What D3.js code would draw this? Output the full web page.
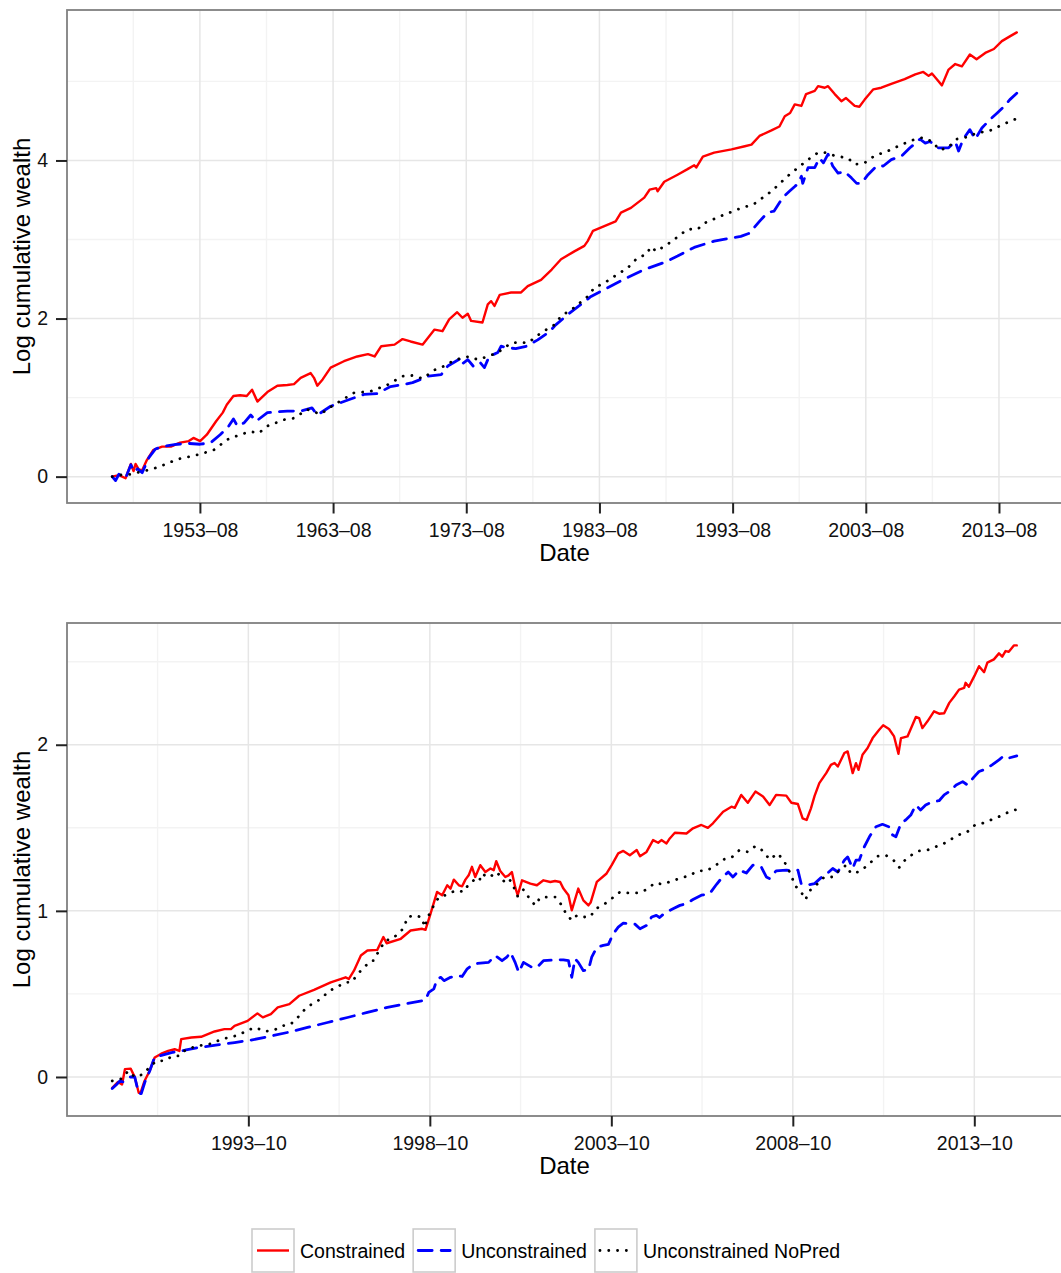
<!DOCTYPE html>
<html>
<head>
<meta charset="utf-8">
<script src="https://cdn.jsdelivr.net/npm/d3@7"></script>
<style>
  html, body { margin: 0; padding: 0; background: #ffffff; }
  svg { display: block; }
  text { font-family: "Liberation Sans", Arial, Helvetica, sans-serif; }
</style>
</head>
<body>
<svg id="chart" width="1061" height="1273"></svg>
<script>
// ---------------- DATA (decimal year, log cumulative wealth) ----------------
const seriesNames = ["Constrained", "Unconstrained", "Unconstrained NoPred"];

const topConstrained = [[1947.0,0.0],[1947.5,0.02],[1948.0,-0.02],[1948.4,0.16],[1948.6,0.07],[1948.75,0.16],[1949.0,0.09],[1949.25,0.08],[1949.6,0.21],[1950.1,0.34],[1950.75,0.38],[1951.4,0.38],[1952.1,0.43],[1952.75,0.45],[1953.1,0.49],[1953.6,0.45],[1954.1,0.53],[1954.8,0.70],[1955.3,0.81],[1955.6,0.91],[1956.1,1.02],[1956.6,1.03],[1957.1,1.02],[1957.5,1.10],[1957.9,0.95],[1958.65,1.07],[1959.4,1.15],[1960.15,1.16],[1960.65,1.17],[1961.15,1.25],[1961.9,1.31],[1962.15,1.25],[1962.4,1.15],[1962.8,1.23],[1963.4,1.38],[1964.4,1.46],[1965.4,1.52],[1966.2,1.55],[1966.7,1.52],[1967.2,1.65],[1968.2,1.67],[1968.8,1.74],[1969.4,1.71],[1970.3,1.67],[1971.2,1.86],[1971.8,1.84],[1972.3,1.99],[1972.9,2.08],[1973.3,2.01],[1973.7,2.06],[1973.95,1.97],[1974.8,1.95],[1975.2,2.18],[1975.45,2.22],[1975.7,2.16],[1976.1,2.30],[1976.95,2.33],[1977.7,2.33],[1978.2,2.41],[1979.2,2.49],[1980.0,2.62],[1980.7,2.75],[1981.7,2.85],[1982.45,2.92],[1982.7,2.98],[1983.1,3.11],[1983.95,3.17],[1984.8,3.23],[1985.2,3.34],[1985.95,3.40],[1986.95,3.53],[1987.35,3.63],[1987.85,3.65],[1987.95,3.61],[1988.45,3.73],[1989.45,3.82],[1990.2,3.89],[1990.7,3.94],[1990.85,3.91],[1991.35,4.05],[1992.2,4.10],[1993.5,4.14],[1994.5,4.18],[1995.0,4.20],[1995.6,4.31],[1996.5,4.38],[1997.1,4.43],[1997.5,4.56],[1997.9,4.60],[1998.25,4.71],[1998.75,4.69],[1999.1,4.84],[1999.75,4.88],[2000.0,4.94],[2000.5,4.92],[2000.75,4.94],[2001.25,4.84],[2001.75,4.75],[2002.1,4.79],[2002.75,4.69],[2003.1,4.68],[2003.5,4.77],[2004.15,4.90],[2004.75,4.92],[2005.5,4.97],[2006.5,5.03],[2007.3,5.09],[2007.9,5.12],[2008.3,5.07],[2008.55,5.10],[2008.9,5.03],[2009.3,4.95],[2009.8,5.15],[2010.3,5.22],[2010.8,5.19],[2011.4,5.34],[2011.9,5.28],[2012.55,5.36],[2013.2,5.41],[2013.8,5.51],[2014.4,5.57],[2014.92,5.62]];

const topUnconstrained = [[1947.0,0.0],[1947.25,-0.05],[1947.5,0.03],[1948.0,-0.02],[1948.4,0.15],[1948.65,0.06],[1948.9,0.10],[1949.25,0.05],[1949.75,0.24],[1950.25,0.35],[1950.75,0.38],[1951.9,0.41],[1952.75,0.42],[1953.6,0.41],[1954.4,0.43],[1955.1,0.53],[1955.75,0.64],[1956.1,0.73],[1956.4,0.64],[1956.9,0.68],[1957.4,0.78],[1957.8,0.70],[1958.65,0.81],[1960.15,0.83],[1961.15,0.83],[1962.0,0.87],[1962.4,0.78],[1963.4,0.89],[1964.7,0.97],[1965.9,1.04],[1966.9,1.05],[1967.9,1.14],[1969.05,1.17],[1969.55,1.19],[1970.15,1.23],[1970.7,1.27],[1971.7,1.29],[1972.2,1.40],[1972.8,1.46],[1973.2,1.50],[1973.3,1.43],[1973.7,1.48],[1974.1,1.40],[1974.6,1.45],[1974.95,1.38],[1975.3,1.52],[1975.95,1.57],[1976.2,1.65],[1976.7,1.63],[1977.3,1.62],[1978.1,1.65],[1978.95,1.73],[1979.8,1.83],[1980.3,1.92],[1981.2,2.05],[1982.2,2.18],[1982.95,2.28],[1984.2,2.39],[1985.7,2.52],[1986.95,2.62],[1988.45,2.71],[1989.45,2.79],[1990.7,2.90],[1992.2,2.98],[1994.2,3.04],[1994.85,3.08],[1995.6,3.23],[1996.2,3.34],[1996.7,3.36],[1997.35,3.53],[1997.85,3.61],[1998.25,3.67],[1998.5,3.71],[1998.75,3.80],[1998.85,3.71],[1999.25,3.91],[1999.75,3.91],[2000.1,4.03],[2000.4,3.97],[2000.75,4.08],[2001.1,3.93],[2001.5,3.84],[2002.0,3.86],[2002.5,3.78],[2002.9,3.71],[2003.25,3.71],[2003.75,3.82],[2004.4,3.93],[2004.9,3.93],[2005.5,4.01],[2006.3,4.06],[2006.9,4.16],[2007.65,4.27],[2008.05,4.22],[2008.4,4.24],[2009.0,4.16],[2009.8,4.16],[2010.3,4.24],[2010.55,4.12],[2010.9,4.27],[2011.4,4.39],[2011.8,4.27],[2012.3,4.41],[2012.8,4.50],[2013.45,4.60],[2013.95,4.68],[2014.4,4.77],[2014.92,4.85]];

const topNoPred = [[1947.0,0.0],[1947.6,0.02],[1948.4,0.03],[1949.1,0.06],[1949.9,0.09],[1950.6,0.13],[1951.9,0.22],[1953.25,0.27],[1953.9,0.30],[1954.65,0.34],[1955.65,0.47],[1956.75,0.54],[1957.4,0.57],[1958.0,0.55],[1958.65,0.64],[1959.9,0.72],[1960.65,0.74],[1961.65,0.85],[1962.15,0.82],[1962.65,0.79],[1963.3,0.87],[1964.55,1.00],[1965.15,1.06],[1966.4,1.08],[1967.65,1.16],[1968.8,1.27],[1969.55,1.28],[1970.3,1.24],[1971.2,1.35],[1971.95,1.40],[1972.55,1.46],[1973.2,1.50],[1973.8,1.52],[1974.45,1.48],[1975.2,1.52],[1975.95,1.57],[1976.95,1.69],[1977.6,1.70],[1978.2,1.69],[1979.2,1.82],[1980.2,1.92],[1980.7,2.03],[1981.7,2.14],[1982.7,2.28],[1983.2,2.39],[1983.95,2.45],[1984.95,2.56],[1985.7,2.64],[1986.45,2.77],[1987.1,2.81],[1987.45,2.91],[1987.85,2.85],[1988.7,2.94],[1989.35,3.02],[1990.2,3.13],[1990.95,3.13],[1991.5,3.21],[1992.6,3.29],[1993.95,3.38],[1995.2,3.45],[1996.5,3.61],[1997.7,3.80],[1998.5,3.91],[1999.25,4.01],[2000.0,4.10],[2000.5,4.10],[2001.25,4.06],[2002.25,4.03],[2002.75,3.95],[2003.5,3.97],[2004.25,4.06],[2005.25,4.12],[2006.25,4.20],[2007.3,4.27],[2007.9,4.29],[2008.55,4.24],[2009.15,4.13],[2009.8,4.17],[2010.4,4.27],[2011.3,4.30],[2011.9,4.35],[2012.8,4.37],[2013.55,4.43],[2014.2,4.48],[2014.92,4.53]];

const bottomConstrained = [[1990.0,-0.065],[1990.16,-0.03],[1990.27,-0.045],[1990.35,0.047],[1990.51,0.05],[1990.62,0.0],[1990.73,-0.095],[1990.78,-0.095],[1990.89,-0.024],[1991.03,0.036],[1991.17,0.117],[1991.35,0.14],[1991.54,0.157],[1991.72,0.167],[1991.85,0.157],[1991.9,0.228],[1992.18,0.238],[1992.45,0.242],[1992.82,0.274],[1993.09,0.288],[1993.27,0.288],[1993.37,0.308],[1993.73,0.338],[1994.0,0.383],[1994.15,0.359],[1994.37,0.379],[1994.56,0.419],[1994.88,0.439],[1995.15,0.489],[1995.56,0.524],[1996.02,0.57],[1996.43,0.60],[1996.52,0.59],[1996.66,0.64],[1996.85,0.731],[1997.03,0.761],[1997.3,0.765],[1997.47,0.842],[1997.56,0.805],[1997.95,0.832],[1998.22,0.882],[1998.54,0.892],[1998.63,0.886],[1998.77,0.983],[1998.95,1.114],[1999.09,1.094],[1999.23,1.154],[1999.32,1.134],[1999.41,1.188],[1999.55,1.154],[1999.64,1.148],[1999.73,1.188],[1999.82,1.214],[1999.91,1.265],[2000.0,1.204],[2000.14,1.275],[2000.28,1.234],[2000.42,1.255],[2000.51,1.245],[2000.58,1.299],[2000.69,1.24],[2000.83,1.204],[2000.92,1.214],[2001.01,1.234],[2001.1,1.144],[2001.17,1.094],[2001.29,1.184],[2001.52,1.164],[2001.7,1.154],[2001.88,1.184],[2002.07,1.174],[2002.2,1.18],[2002.34,1.174],[2002.43,1.134],[2002.57,1.094],[2002.66,1.003],[2002.84,1.134],[2002.98,1.063],[2003.12,1.033],[2003.18,1.05],[2003.35,1.174],[2003.62,1.225],[2003.76,1.275],[2003.94,1.346],[2004.08,1.361],[2004.26,1.335],[2004.45,1.366],[2004.54,1.329],[2004.72,1.355],[2004.9,1.426],[2005.04,1.41],[2005.13,1.426],[2005.27,1.406],[2005.36,1.436],[2005.5,1.47],[2005.82,1.466],[2006.0,1.497],[2006.23,1.517],[2006.41,1.50],[2006.55,1.527],[2006.83,1.597],[2007.06,1.627],[2007.15,1.62],[2007.33,1.698],[2007.51,1.651],[2007.72,1.718],[2007.93,1.688],[2008.11,1.637],[2008.29,1.698],[2008.57,1.694],[2008.71,1.651],[2008.89,1.643],[2009.02,1.557],[2009.13,1.547],[2009.25,1.617],[2009.35,1.692],[2009.48,1.769],[2009.67,1.829],[2009.8,1.879],[2009.9,1.89],[2009.99,1.869],[2010.17,1.95],[2010.26,1.96],[2010.4,1.829],[2010.49,1.889],[2010.56,1.849],[2010.67,1.94],[2010.81,1.98],[2010.95,2.04],[2011.13,2.09],[2011.24,2.117],[2011.4,2.095],[2011.54,2.05],[2011.66,1.946],[2011.73,2.04],[2011.91,2.05],[2012.14,2.167],[2012.23,2.16],[2012.32,2.10],[2012.46,2.141],[2012.64,2.201],[2012.78,2.187],[2012.92,2.19],[2013.06,2.252],[2013.2,2.292],[2013.33,2.332],[2013.47,2.342],[2013.51,2.373],[2013.6,2.349],[2013.75,2.413],[2013.88,2.473],[2014.02,2.437],[2014.11,2.494],[2014.29,2.514],[2014.43,2.55],[2014.52,2.53],[2014.61,2.564],[2014.7,2.56],[2014.84,2.598],[2014.92,2.598]];

const bottomUnconstrained = [[1990.0,-0.07],[1990.12,-0.045],[1990.21,-0.024],[1990.3,-0.03],[1990.5,0.0],[1990.62,0.0],[1990.73,-0.1],[1990.8,-0.1],[1990.9,-0.03],[1991.03,0.035],[1991.17,0.12],[1991.3,0.127],[1991.63,0.147],[1992.0,0.161],[1992.36,0.177],[1992.9,0.193],[1993.37,0.207],[1993.82,0.222],[1994.28,0.242],[1994.83,0.268],[1995.38,0.298],[1995.93,0.328],[1996.48,0.358],[1997.03,0.389],[1997.58,0.419],[1998.13,0.443],[1998.63,0.462],[1998.72,0.509],[1998.86,0.53],[1998.95,0.59],[1999.05,0.60],[1999.14,0.58],[1999.32,0.60],[1999.5,0.61],[1999.64,0.605],[1999.78,0.651],[1999.96,0.681],[2000.14,0.685],[2000.37,0.69],[2000.55,0.731],[2000.74,0.70],[2000.87,0.721],[2000.97,0.751],[2001.1,0.69],[2001.2,0.63],[2001.33,0.69],[2001.56,0.66],[2001.7,0.66],[2001.88,0.70],[2002.16,0.705],[2002.43,0.705],[2002.57,0.70],[2002.66,0.60],[2002.75,0.711],[2002.84,0.69],[2002.98,0.64],[2003.12,0.645],[2003.21,0.721],[2003.35,0.781],[2003.53,0.792],[2003.67,0.798],[2003.8,0.862],[2003.94,0.902],[2004.08,0.926],[2004.26,0.923],[2004.4,0.92],[2004.54,0.892],[2004.72,0.912],[2004.86,0.963],[2004.99,0.973],[2005.08,0.96],[2005.22,0.987],[2005.45,1.013],[2005.64,1.033],[2005.82,1.044],[2006.0,1.068],[2006.23,1.094],[2006.46,1.104],[2006.65,1.16],[2006.78,1.195],[2006.97,1.234],[2007.1,1.204],[2007.28,1.245],[2007.47,1.228],[2007.65,1.275],[2007.88,1.265],[2008.02,1.204],[2008.11,1.194],[2008.29,1.241],[2008.57,1.245],[2008.71,1.241],[2008.89,1.245],[2008.98,1.164],[2009.12,1.154],[2009.35,1.164],[2009.53,1.20],[2009.71,1.228],[2009.85,1.255],[2009.99,1.234],[2010.17,1.305],[2010.26,1.325],[2010.4,1.255],[2010.49,1.305],[2010.58,1.305],[2010.72,1.386],[2010.86,1.446],[2011.04,1.506],[2011.22,1.521],[2011.4,1.506],[2011.5,1.456],[2011.59,1.446],[2011.73,1.527],[2011.86,1.547],[2012.0,1.577],[2012.14,1.637],[2012.27,1.607],[2012.41,1.637],[2012.59,1.657],[2012.78,1.663],[2012.92,1.698],[2013.06,1.718],[2013.25,1.758],[2013.43,1.778],[2013.56,1.758],[2013.75,1.808],[2013.88,1.839],[2014.06,1.853],[2014.24,1.879],[2014.43,1.909],[2014.56,1.933],[2014.7,1.92],[2014.92,1.933]];

const bottomNoPred = [[1990.0,-0.024],[1990.26,-0.01],[1990.44,0.036],[1990.62,0.0],[1990.85,0.016],[1991.03,0.06],[1991.22,0.097],[1991.44,0.097],[1991.67,0.127],[1991.85,0.127],[1992.04,0.167],[1992.27,0.181],[1992.5,0.193],[1992.77,0.201],[1993.0,0.228],[1993.23,0.238],[1993.5,0.254],[1993.73,0.282],[1993.96,0.298],[1994.19,0.274],[1994.46,0.282],[1994.69,0.308],[1994.92,0.318],[1995.11,0.358],[1995.29,0.403],[1995.52,0.443],[1995.75,0.469],[1995.96,0.515],[1996.21,0.544],[1996.43,0.57],[1996.6,0.57],[1996.76,0.62],[1996.94,0.66],[1997.12,0.70],[1997.2,0.70],[1997.35,0.761],[1997.53,0.822],[1997.72,0.832],[1997.85,0.858],[1998.04,0.898],[1998.13,0.963],[1998.36,0.973],[1998.54,0.959],[1998.6,0.902],[1998.72,0.973],[1998.86,1.033],[1999.0,1.083],[1999.18,1.094],[1999.37,1.114],[1999.5,1.124],[1999.68,1.114],[1999.82,1.16],[1999.96,1.184],[2000.1,1.174],[2000.19,1.225],[2000.32,1.204],[2000.42,1.204],[2000.55,1.234],[2000.69,1.214],[2000.83,1.164],[2000.97,1.184],[2001.06,1.144],[2001.17,1.088],[2001.33,1.128],[2001.47,1.083],[2001.65,1.033],[2001.79,1.08],[2002.02,1.083],[2002.2,1.083],[2002.39,1.033],[2002.5,0.983],[2002.66,0.943],[2002.8,0.973],[2002.98,0.963],[2003.16,0.963],[2003.33,1.013],[2003.58,1.044],[2003.76,1.074],[2003.99,1.114],[2004.22,1.108],[2004.49,1.108],[2004.72,1.128],[2004.95,1.168],[2005.18,1.16],[2005.41,1.18],[2005.64,1.195],[2005.91,1.214],[2006.14,1.241],[2006.37,1.241],[2006.6,1.269],[2006.83,1.309],[2007.06,1.321],[2007.28,1.366],[2007.51,1.355],[2007.72,1.39],[2007.93,1.361],[2008.11,1.309],[2008.34,1.346],[2008.52,1.295],[2008.71,1.214],[2008.8,1.154],[2008.98,1.114],[2009.1,1.068],[2009.21,1.12],[2009.39,1.154],[2009.62,1.204],[2009.85,1.204],[2010.03,1.245],[2010.22,1.275],[2010.35,1.225],[2010.54,1.234],[2010.67,1.249],[2010.86,1.285],[2011.08,1.329],[2011.31,1.335],[2011.54,1.301],[2011.68,1.261],[2011.82,1.301],[2012.05,1.341],[2012.23,1.361],[2012.46,1.366],[2012.69,1.386],[2012.92,1.406],[2013.15,1.436],[2013.37,1.462],[2013.56,1.476],[2013.77,1.517],[2013.97,1.527],[2014.2,1.547],[2014.43,1.567],[2014.66,1.591],[2014.92,1.611]];

const topXTicks = ["1953-08","1963-08","1973-08","1983-08","1993-08","2003-08","2013-08"];
const bottomXTicks = ["1993-10","1998-10","2003-10","2008-10","2013-10"];
const topYTicks = [0, 2, 4];
const bottomYTicks = [0, 1, 2];

// ---------------- STYLE ----------------
const styles = [
  { color: "#ff0000", width: 2.4, dash: null, cap: "round" },
  { color: "#0000ff", width: 2.8, dash: "14 9", cap: "round" },
  { color: "#000000", width: 2.8, dash: "0.1 8.7", cap: "round" }
];
const FONT_TICK = 19.5, FONT_TITLE = 24;

const svg = d3.select("#chart");
svg.append("rect").attr("width", 1061).attr("height", 1273).attr("fill", "#fff");

function toYear(s) { const [y, m] = s.split("-").map(Number); return y + (m - 1) / 12; }
function expand(ext) { const d = ext[1] - ext[0]; return [ext[0] - 0.05 * d, ext[1] + 0.05 * d]; }

function panel(cfg) {
  const { left, right, top, bottom, series, xTicks, yTicks, xMinorStep, yMinorStep } = cfg;
  const allPts = series.flat();
  const x = d3.scaleLinear().domain(expand(d3.extent(allPts, d => d[0]))).range([left, right]);
  const y = d3.scaleLinear().domain(expand(d3.extent(allPts, d => d[1]))).range([bottom, top]);
  const g = svg.append("g");

  const xt = xTicks.map(toYear);
  const xd = x.domain(), yd = y.domain();
  const xMinor = [];
  for (let v = xt[0] - xMinorStep / 2; v < xd[1]; v += xMinorStep) if (v > xd[0]) xMinor.push(v);
  const yMinor = [];
  for (let v = yTicks[0] - yMinorStep / 2; v < yd[1]; v += yMinorStep) if (v > yd[0]) yMinor.push(v);

  g.selectAll(".vminor").data(xMinor).join("line")
    .attr("x1", d => x(d)).attr("x2", d => x(d)).attr("y1", top).attr("y2", bottom)
    .attr("stroke", "#f3f3f3").attr("stroke-width", 1.4);
  g.selectAll(".hminor").data(yMinor).join("line")
    .attr("y1", d => y(d)).attr("y2", d => y(d)).attr("x1", left).attr("x2", right)
    .attr("stroke", "#f3f3f3").attr("stroke-width", 1.4);
  g.selectAll(".vmajor").data(xt).join("line")
    .attr("x1", d => x(d)).attr("x2", d => x(d)).attr("y1", top).attr("y2", bottom)
    .attr("stroke", "#e6e6e6").attr("stroke-width", 1.5);
  g.selectAll(".hmajor").data(yTicks).join("line")
    .attr("y1", d => y(d)).attr("y2", d => y(d)).attr("x1", left).attr("x2", right)
    .attr("stroke", "#e6e6e6").attr("stroke-width", 1.5);

  const line = d3.line().x(d => x(d[0])).y(d => y(d[1])).curve(d3.curveLinear);
  series.forEach((s, i) => {
    const st = styles[i];
    g.append("path").datum(s).attr("d", line)
      .attr("fill", "none").attr("stroke", st.color).attr("stroke-width", st.width)
      .attr("stroke-linejoin", "round").attr("stroke-linecap", st.cap)
      .attr("stroke-dasharray", st.dash);
  });

  g.append("rect").attr("x", left).attr("y", top).attr("width", right - left).attr("height", bottom - top)
    .attr("fill", "none").attr("stroke", "#808080").attr("stroke-width", 1.8);

  const xAxis = d3.axisBottom(x).tickValues(xt)
    .tickFormat((d, i) => xTicks[i].replace("-", "\u2013")).tickSize(10.5).tickPadding(9.5);
  const gx = g.append("g").attr("transform", `translate(0,${bottom})`).call(xAxis);
  const yAxis = d3.axisLeft(y).tickValues(yTicks).tickFormat(d3.format("d")).tickSize(11).tickPadding(8);
  const gy = g.append("g").attr("transform", `translate(${left},0)`).call(yAxis);
  [gx, gy].forEach(a => {
    a.select(".domain").remove();
    a.selectAll(".tick line").attr("stroke", "#222").attr("stroke-width", 2);
    a.selectAll(".tick text").attr("fill", "#111").style("font-size", FONT_TICK + "px")
      .style("font-family", '"Liberation Sans", Arial, Helvetica, sans-serif');
  });

  g.append("text").attr("x", (left + right) / 2).attr("y", bottom + 58)
    .attr("text-anchor", "middle").style("font-size", FONT_TITLE + "px").attr("fill", "#000").text("Date");
  g.append("text").attr("transform", `translate(30,${(top + bottom) / 2}) rotate(-90)`)
    .attr("text-anchor", "middle").style("font-size", FONT_TITLE + "px").attr("fill", "#000")
    .text("Log cumulative wealth");
}

panel({ left: 67, right: 1062, top: 10, bottom: 503,
  series: [topConstrained, topUnconstrained, topNoPred],
  xTicks: topXTicks, yTicks: topYTicks, xMinorStep: 10, yMinorStep: 2 });

panel({ left: 67, right: 1062, top: 623, bottom: 1116,
  series: [bottomConstrained, bottomUnconstrained, bottomNoPred],
  xTicks: bottomXTicks, yTicks: bottomYTicks, xMinorStep: 5, yMinorStep: 1 });

// legend
const lg = svg.append("g");
let lx = 252;
const keyW = 42, keyH = 43, keyTop = 1229;
seriesNames.forEach((name, i) => {
  const st = styles[i];
  lg.append("rect").attr("x", lx).attr("y", keyTop).attr("width", keyW).attr("height", keyH)
    .attr("fill", "#fff").attr("stroke", "#cccccc").attr("stroke-width", 1.6);
  lg.append("line").attr("x1", lx + 5).attr("x2", lx + keyW - 5)
    .attr("y1", keyTop + keyH / 2).attr("y2", keyTop + keyH / 2)
    .attr("stroke", st.color).attr("stroke-width", st.width)
    .attr("stroke-linecap", i === 0 ? "butt" : st.cap).attr("stroke-dasharray", st.dash);
  const t = lg.append("text").attr("x", lx + keyW + 6).attr("y", keyTop + keyH / 2 + 7)
    .style("font-size", FONT_TICK + "px").attr("fill", "#000").text(name);
  const w = t.node().getComputedTextLength();
  lx = lx + keyW + 6 + w + 8;
});
</script>
</body>
</html>
